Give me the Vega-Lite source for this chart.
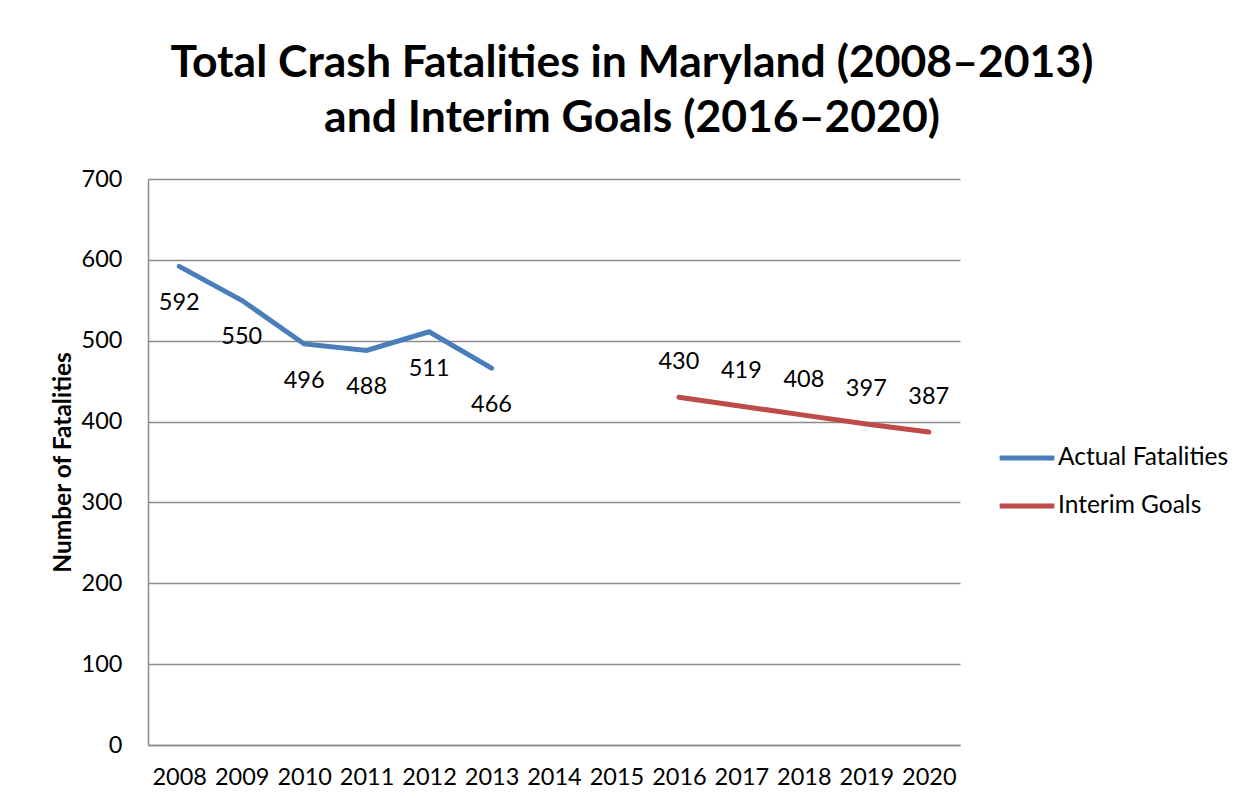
{
  "$schema": "https://vega.github.io/schema/vega-lite/v6.json",
  "width": 812,
  "height": 566,
  "autosize": {"type": "none"},
  "padding": {"left": 148, "top": 179, "right": 294, "bottom": 61},
  "background": "white",
  "config": {
    "font": "Lato",
    "view": {"stroke": null}
  },
  "title": {
    "text": ["Total Crash Fatalities in Maryland  (2008–2013)", "and Interim Goals (2016–2020)"],
    "font": "Lato",
    "fontSize": 44.5,
    "fontWeight": "bold",
    "color": "#000000",
    "lineHeight": 55,
    "anchor": "middle",
    "dx": 78,
    "offset": 26
  },
  "data": {
    "values": [
      {"year": "2008", "value": 592, "series": "Actual Fatalities"},
      {"year": "2009", "value": 550, "series": "Actual Fatalities"},
      {"year": "2010", "value": 496, "series": "Actual Fatalities"},
      {"year": "2011", "value": 488, "series": "Actual Fatalities"},
      {"year": "2012", "value": 511, "series": "Actual Fatalities"},
      {"year": "2013", "value": 466, "series": "Actual Fatalities"},
      {"year": "2016", "value": 430, "series": "Interim Goals"},
      {"year": "2017", "value": 419, "series": "Interim Goals"},
      {"year": "2018", "value": 408, "series": "Interim Goals"},
      {"year": "2019", "value": 397, "series": "Interim Goals"},
      {"year": "2020", "value": 387, "series": "Interim Goals"}
    ]
  },
  "encoding": {
    "x": {
      "field": "year",
      "type": "ordinal",
      "scale": {
        "type": "point",
        "padding": 0.5,
        "domain": ["2008","2009","2010","2011","2012","2013","2014","2015","2016","2017","2018","2019","2020"]
      },
      "axis": {
        "title": null,
        "labelAngle": 0,
        "labelFont": "Lato",
        "labelFontSize": 23.5,
        "labelColor": "#000000",
        "labelPadding": 20,
        "ticks": false,
        "domainColor": "#8c8c8c",
        "domainWidth": 1.5,
        "grid": false
      }
    },
    "y": {
      "field": "value",
      "type": "quantitative",
      "scale": {"domain": [0, 700]},
      "axis": {
        "title": "Number of Fatalities",
        "titleFont": "Lato",
        "titleFontSize": 24.5,
        "titleFontWeight": "bold",
        "titleColor": "#000000",
        "titlePadding": 6,
        "values": [0,100,200,300,400,500,600,700],
        "labelFont": "Lato",
        "labelFontSize": 23.5,
        "labelColor": "#000000",
        "labelPadding": 26,
        "ticks": false,
        "domainColor": "#8c8c8c",
        "domainWidth": 1.5,
        "grid": true,
        "gridColor": "#8c8c8c",
        "gridWidth": 1.5
      }
    }
  },
  "layer": [
    {
      "mark": {"type": "line", "strokeWidth": 5, "strokeCap": "round"},
      "encoding": {
        "color": {
          "field": "series",
          "type": "nominal",
          "scale": {"domain": ["Actual Fatalities", "Interim Goals"], "range": ["#4a7ebb", "#be4b48"]},
          "legend": {
            "title": null,
            "orient": "none",
            "legendX": 849,
            "legendY": 249,
            "symbolType": "stroke",
            "symbolSize": 3000,
            "symbolStrokeWidth": 5,
            "labelFont": "Lato",
            "labelFontSize": 24.5,
            "labelColor": "#000000",
            "labelOffset": 1,
            "labelLimit": 400,
            "rowPadding": 6
          }
        }
      }
    },
    {
      "transform": [{"filter": "datum.series === 'Actual Fatalities'"}],
      "mark": {"type": "text", "fontSize": 23.5, "font": "Lato", "color": "#000000", "dy": 37, "baseline": "middle"},
      "encoding": {"text": {"field": "value"}}
    },
    {
      "transform": [{"filter": "datum.series === 'Interim Goals'"}],
      "mark": {"type": "text", "fontSize": 23.5, "font": "Lato", "color": "#000000", "dy": -35, "baseline": "middle"},
      "encoding": {"text": {"field": "value"}}
    }
  ]
}
